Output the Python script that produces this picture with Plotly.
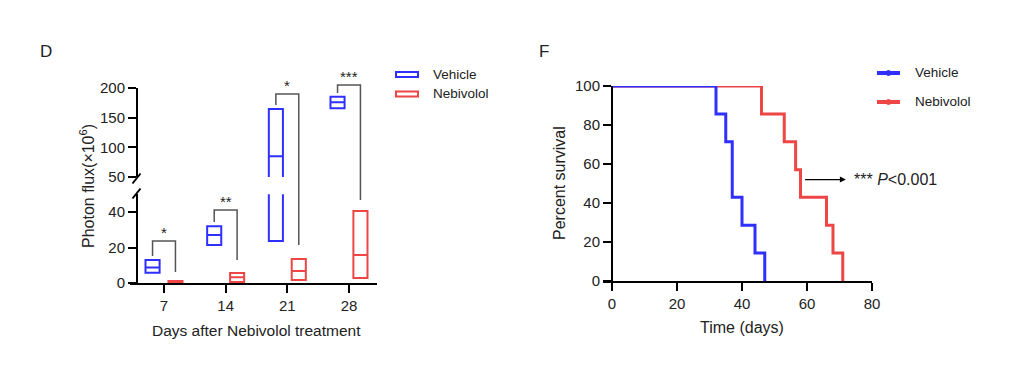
import plotly.graph_objects as go

W, H = 1024, 379
PAGE_OFF = 8  # the page body margin shifts the figure by 8 px
FONT = "Liberation Sans, Arial, sans-serif"
BLUE = "#2F2FFF"
RED = "#EE4545"
GRAY = "#555555"

# ---------------- data (panel D) ----------------
days = [7, 14, 21, 28]
day_labels = ["7", "14", "21", "28"]
veh_min = [5.8, 21.4, 23.6, 165.8]
veh_mean = [8.8, 27.0, 85.0, 175.9]
veh_max = [13.0, 32.0, 164.6, 185.3]
neb_min = [0.0, 0.5, 1.7, 2.8]
neb_mean = [0.5, 3.3, 6.8, 15.8]
neb_max = [1.1, 5.6, 13.5, 40.6]

sig_labels = ["*", "**", "*", "***"]
sig_top = [23.7, 41.1, 189.9, 205.1]
sig_left_end = [15.2, 34.4, 171.4, 191.6]
sig_right_end = [6.2, 13.0, 21.4, 46.8]

low_ticks = [0, 20, 40]
up_ticks = [50, 100, 150, 200]

# ---------------- data (panel F) ----------------
surv_veh_t = [0, 32, 35, 37, 40, 44, 47]
surv_veh_p = [100, 85.7, 71.4, 42.9, 28.6, 14.3, 0]
surv_neb_t = [0, 46, 53, 56.5, 58, 66, 68, 71]
surv_neb_p = [100, 85.7, 71.4, 57.1, 42.9, 28.6, 14.3, 0]
surv_ticks_x = [0, 20, 40, 60, 80]
surv_ticks_y = [0, 20, 40, 60, 80, 100]


def px(x):
    return (x - PAGE_OFF) / W


def py(y):
    return 1 - (y - PAGE_OFF) / H


def dpx(d):
    return d / W


# layout geometry
D_XDOM = [px(130), px(377)]
D_XRANGE = [3.14, 31.18]
D_YPOS = px(137)
LOW_DOM = [py(283), py(194.25)]
LOW_RANGE = [0, 50]
UP_DOM = [py(177), py(88)]
UP_RANGE = [50, 200]

F_XDOM = [px(603), px(872)]
F_XRANGE = [-2.77, 80]
F_YPOS = px(612)
F_YDOM = [py(281), py(86)]


def broken_paper(v):
    if v >= LOW_RANGE[1]:
        return UP_DOM[0] + (v - UP_RANGE[0]) / (UP_RANGE[1] - UP_RANGE[0]) * (UP_DOM[1] - UP_DOM[0])
    return LOW_DOM[0] + (v - LOW_RANGE[0]) / (LOW_RANGE[1] - LOW_RANGE[0]) * (LOW_DOM[1] - LOW_DOM[0])


fig = go.Figure()

off = 1.3
bw = 1.6
veh_x = [d - off for d in days]
neb_x = [d + off for d in days]

for yax in ["y", "y2"]:
    fig.add_trace(go.Box(
        x=veh_x, q1=veh_min, median=veh_mean, q3=veh_max,
        lowerfence=veh_min, upperfence=veh_max, width=bw,
        line=dict(color=BLUE, width=2), fillcolor="rgba(0,0,0,0)",
        whiskerwidth=0, xaxis="x", yaxis=yax, showlegend=False,
        hoverinfo="skip", name="Vehicle"))
    fig.add_trace(go.Box(
        x=neb_x, q1=neb_min, median=neb_mean, q3=neb_max,
        lowerfence=neb_min, upperfence=neb_max, width=bw,
        line=dict(color=RED, width=2), fillcolor="rgba(0,0,0,0)",
        whiskerwidth=0, xaxis="x", yaxis=yax, showlegend=False,
        hoverinfo="skip", name="Nebivolol"))

# survival curves (Nebivolol first so Vehicle sits on top)
fig.add_trace(go.Scatter(x=surv_neb_t, y=surv_neb_p, mode="lines",
                         line=dict(color=RED, width=3, shape="hv"),
                         xaxis="x2", yaxis="y3", showlegend=False, name="Nebivolol"))
fig.add_trace(go.Scatter(x=surv_veh_t, y=surv_veh_p, mode="lines",
                         line=dict(color=BLUE, width=3, shape="hv"),
                         xaxis="x2", yaxis="y3", showlegend=False, name="Vehicle"))

shapes = []
annotations = []


def ann(x, y, text, size, xanchor="center", yanchor="middle", **kw):
    d = dict(x=x, y=y, xref="paper", yref="paper", text=text, showarrow=False,
             xanchor=xanchor, yanchor=yanchor, font=dict(size=size, color="#222", family=FONT))
    d.update(kw)
    return d


# significance brackets
for d, lab, top, le, re in zip(days, sig_labels, sig_top, sig_left_end, sig_right_end):
    lx, rx = d - off, d + off
    path = "M{},{} L{},{} L{},{} L{},{}".format(
        lx, broken_paper(le), lx, broken_paper(top), rx, broken_paper(top), rx, broken_paper(re))
    shapes.append(dict(type="path", path=path, xref="x", yref="paper",
                       line=dict(color=GRAY, width=1.5)))
    annotations.append(dict(x=d, y=broken_paper(top), xref="x", yref="paper",
                            text=lab, showarrow=False, xanchor="center", yanchor="bottom",
                            yshift=-2, font=dict(size=15, color="#222", family=FONT)))

# axis break marks
for yc in [177 + 1.5, 193.5]:
    shapes.append(dict(type="line", xref="paper", yref="paper",
                       x0=D_YPOS - dpx(4.5), y0=py(yc + 5), x1=D_YPOS + dpx(3.5), y1=py(yc - 5),
                       line=dict(color="black", width=2)))

# legend D (manual)
for name, col, yc in [("Vehicle", BLUE, 74.5), ("Nebivolol", RED, 94)]:
    shapes.append(dict(type="rect", xref="paper", yref="paper",
                       x0=px(396), x1=px(418), y0=py(yc + 2.5), y1=py(yc - 2.5),
                       line=dict(color=col, width=2), fillcolor="rgba(0,0,0,0)"))
    annotations.append(ann(px(431), py(yc), name, 13.5, xanchor="left"))

# legend F (manual)
for name, col, yc in [("Vehicle", BLUE, 73), ("Nebivolol", RED, 102)]:
    shapes.append(dict(type="line", xref="paper", yref="paper",
                       x0=px(877), x1=px(900), y0=py(yc), y1=py(yc),
                       line=dict(color=col, width=4)))
    shapes.append(dict(type="circle", xref="paper", yref="paper",
                       x0=px(886), x1=px(891), y0=py(yc + 2.5), y1=py(yc - 2.5),
                       line=dict(color=col, width=1), fillcolor=col))
    annotations.append(ann(px(913), py(yc), name, 13.5, xanchor="left"))

# p-value arrow
annotations.append(dict(x=59.4, y=52, xref="x2", yref="y3",
                        ax=73.8, ay=52, axref="x2", ayref="y3",
                        text="*** <i>P</i>&lt;0.001", xanchor="left", yanchor="middle",
                        showarrow=True, arrowside="start", startarrowhead=2,
                        startarrowsize=1, arrowwidth=1.2, arrowcolor="black",
                        startstandoff=6, font=dict(size=16, color="#222", family=FONT)))

# panel letters & titles
annotations += [
    ann(px(45.5), py(51), "D", 17),
    ann(px(544), py(51), "F", 17),
    ann(px(87), py(186), "Photon flux(×10<sup>6</sup>)", 16, textangle=-90),
    ann(px(256.5), py(330), "Days after Nebivolol treatment", 15.5),
    ann(px(560), py(183), "Percent survival", 16, textangle=-90),
    ann(px(742), py(327), "Time (days)", 16),
]

axis_common = dict(showline=True, linecolor="black", linewidth=2, ticks="outside",
                   ticklen=8, tickwidth=2, tickcolor="black", showgrid=False, zeroline=False,
                   automargin=False,
                   tickfont=dict(size=15, color="#222", family=FONT), fixedrange=True)

fig.update_layout(
    width=W, height=H, autosize=False,
    margin=dict(l=0, r=0, t=0, b=0, pad=0, autoexpand=False),
    paper_bgcolor="white", plot_bgcolor="white",
    font=dict(family=FONT, color="#222"),
    showlegend=False,
    xaxis=dict(domain=D_XDOM, range=D_XRANGE, anchor="y", tickvals=days,
               ticktext=day_labels, **axis_common),
    yaxis=dict(domain=LOW_DOM, range=LOW_RANGE, anchor="free", position=D_YPOS,
               tickvals=low_ticks, **axis_common),
    yaxis2=dict(domain=UP_DOM, range=UP_RANGE, anchor="free", position=D_YPOS,
                tickvals=up_ticks, **axis_common),
    xaxis2=dict(domain=F_XDOM, range=F_XRANGE, anchor="y3", tickvals=surv_ticks_x,
                **axis_common),
    yaxis3=dict(domain=F_YDOM, range=[0, 100], anchor="free", position=F_YPOS,
                tickvals=surv_ticks_y, **axis_common),
    shapes=shapes, annotations=annotations,
)

fig.write_html("out.html")
